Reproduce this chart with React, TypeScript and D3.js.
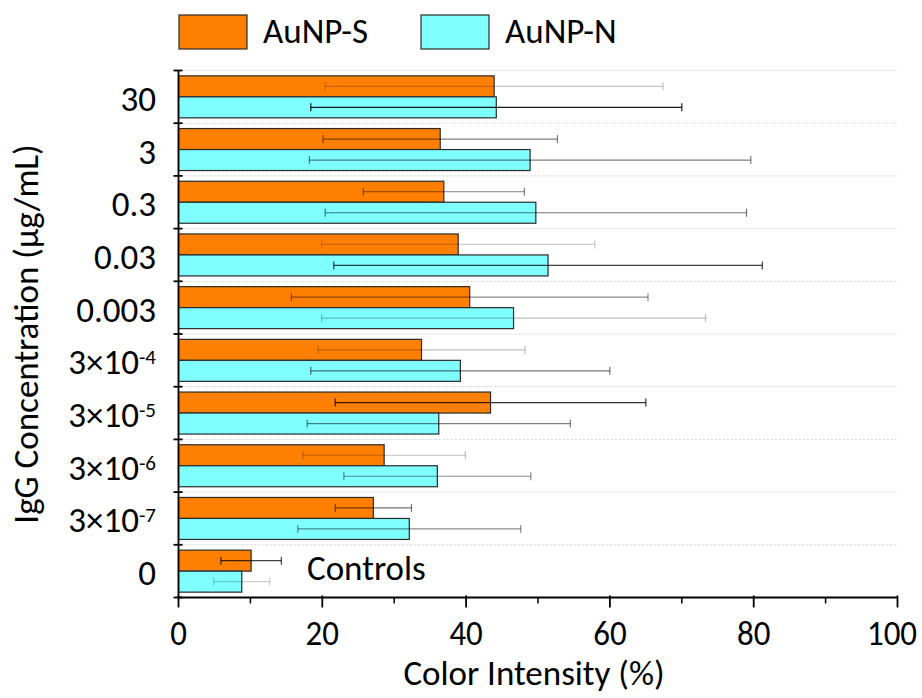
import React from "react";
import * as d3 from "d3";

const categories = ["30", "3", "0.3", "0.03", "0.003", "3e-4", "3e-5", "3e-6", "3e-7", "0"];
const tickBase = ["30", "3", "0.3", "0.03", "0.003", "3×10", "3×10", "3×10", "3×10", "0"];
const tickExp = ["", "", "", "", "", "-4", "-5", "-6", "-7", ""];
const seriesNames = ["AuNP-S", "AuNP-N"];
const sValues = [43.9, 36.4, 36.9, 38.9, 40.5, 33.8, 43.4, 28.6, 27.1, 10.1];
const sErr = [23.5, 16.3, 11.2, 19.0, 24.8, 14.4, 21.6, 11.3, 5.3, 4.2];
const nValues = [44.2, 48.9, 49.7, 51.4, 46.6, 39.2, 36.2, 36.0, 32.1, 8.8];
const nErr = [25.8, 30.7, 29.3, 29.8, 26.7, 20.8, 18.3, 13.0, 15.5, 3.9];
const xTicks = [0, 20, 40, 60, 80, 100];
const xMinor = [10, 30, 50, 70, 90];

// error-bar tone (opacity of dark stroke) per bar
const sTone = [0.22, 0.5, 0.5, 0.2, 0.45, 0.25, 0.8, 0.25, 0.55, 0.75];
const nTone = [0.9, 0.5, 0.55, 0.75, 0.25, 0.55, 0.5, 0.45, 0.45, 0.2];

const FONT = "Carlito, Calibri, Lato, sans-serif";
const COLORS = ["#FF8000", "#80FFFF"];

export default function App() {
  const W = 922, H = 698;
  const left = 178.5, right = 897.5, top = 70.5, bottom = 597.5;
  const x = d3.scaleLinear().domain([0, 100]).range([left, right]);
  const y = d3.scaleBand<string>().domain(categories).range([top, bottom]).padding(0);
  const inner = d3.scaleBand<string>().domain(seriesNames).range([0, y.bandwidth()])
    .paddingInner(0).paddingOuter(0.255);
  const bars = [
    { name: seriesNames[0], vals: sValues, errs: sErr, tones: sTone, color: COLORS[0] },
    { name: seriesNames[1], vals: nValues, errs: nErr, tones: nTone, color: COLORS[1] },
  ];
  const bh = inner.bandwidth();
  return (
    <svg width={W} height={H} style={{ position: "absolute", left: 0, top: 0, background: "#fff" }}
      fontFamily={FONT}>
      {/* grid lines */}
      {categories.map((c, i) => (
        <line key={"g" + i} x1={left} x2={right} y1={y(c)!} y2={y(c)!}
          stroke="#cfcfcf" strokeWidth={1} strokeDasharray="2,2" />
      ))}
      {/* bars */}
      {categories.map((c, i) => (
        <g key={"c" + i}>
          {bars.map((b) => {
            const yy = y(c)! + inner(b.name)!;
            return (
              <rect key={b.name} x={x(0)} y={yy} width={x(b.vals[i]) - x(0)} height={bh}
                fill={b.color} stroke="#2a2a2a" strokeWidth={1.2} />
            );
          })}
        </g>
      ))}
      {/* error bars */}
      {categories.map((c, i) => (
        <g key={"e" + i}>
          {bars.map((b) => {
            const cy = y(c)! + inner(b.name)! + bh / 2;
            const x1 = x(b.vals[i] - b.errs[i]);
            const x2 = x(b.vals[i] + b.errs[i]);
            return (
              <g key={b.name} stroke="#000" strokeOpacity={b.tones[i]} strokeWidth={1.2}>
                <line x1={x1} x2={x2} y1={cy} y2={cy} />
                <line x1={x1} x2={x1} y1={cy - 4} y2={cy + 4} />
                <line x1={x2} x2={x2} y1={cy - 4} y2={cy + 4} />
              </g>
            );
          })}
        </g>
      ))}
      {/* y axis */}
      <line x1={left} x2={left} y1={top} y2={bottom} stroke="#000" strokeWidth={1.8} />
      {categories.map((c, i) => (
        <line key={"yt" + i} x1={left - 5} x2={left + 4} y1={y(c)!} y2={y(c)!} stroke="#000" strokeWidth={1.8} />
      ))}
      <line x1={left - 5} x2={left + 4} y1={bottom} y2={bottom} stroke="#000" strokeWidth={1.8} />
      {categories.map((c, i) => (
        <text key={"yl" + i} x={156} y={y(c)! + y.bandwidth() / 2 + 14} textAnchor="end"
          fontSize={35} fill="#000">
          {tickBase[i]}
          {tickExp[i] && <tspan fontSize={21} dy={-10}>{tickExp[i]}</tspan>}
        </text>
      ))}
      {/* x axis */}
      <line x1={left - 1} x2={right} y1={bottom} y2={bottom} stroke="#000" strokeWidth={1.8} />
      {xTicks.map((t) => {
        const label = String(t);
        return (
          <g key={"xt" + t}>
            <line x1={x(t)} x2={x(t)} y1={bottom - 2} y2={bottom + 10} stroke="#000" strokeWidth={1.8} />
            <text x={Math.min(x(t), W - 30)} y={645} textAnchor="middle" fontSize={35} fill="#000"
              textLength={label.length * 16.7} lengthAdjust="spacingAndGlyphs">{label}</text>
          </g>
        );
      })}
      {xMinor.map((t) => (
        <line key={"xm" + t} x1={x(t)} x2={x(t)} y1={bottom} y2={bottom + 6} stroke="#000" strokeWidth={1.5} />
      ))}
      <text x={(left + right) / 2 - 4} y={685} textAnchor="middle" fontSize={35} fill="#000">Color Intensity (%)</text>
      <text transform={`translate(38,${(top + bottom) / 2}) rotate(-90)`} textAnchor="middle" fontSize={35} fill="#000">
        IgG Concentration (µg/mL)
      </text>
      <text x={307} y={580} fontSize={35} fill="#000">Controls</text>
      {/* legend */}
      {bars.map((b, i) => {
        const lx = [179, 421][i];
        return (
          <g key={"lg" + i}>
            <rect x={lx} y={15} width={68} height={34} fill={b.color} stroke="#2a2a2a" strokeWidth={1.2} />
            <text x={lx + 84} y={43} fontSize={35} fill="#000">{b.name}</text>
          </g>
        );
      })}
    </svg>
  );
}
